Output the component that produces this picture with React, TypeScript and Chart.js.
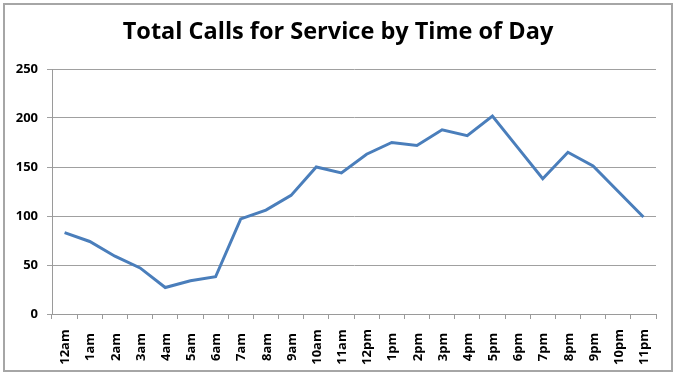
import React, { useEffect, useRef } from "react";
import { Chart, registerables } from "chart.js";

Chart.register(...registerables);

const hours = [
  "12am", "1am", "2am", "3am", "4am", "5am", "6am", "7am", "8am", "9am", "10am", "11am",
  "12pm", "1pm", "2pm", "3pm", "4pm", "5pm", "6pm", "7pm", "8pm", "9pm", "10pm", "11pm",
];
const calls = [83, 74, 59, 47, 27, 34, 38, 97, 106, 121, 150, 144, 163, 175, 172, 188, 182, 202, 170, 138, 165, 151, 125, 99];
const yTicks = [0, 50, 100, 150, 200, 250];
const titleText = "Total Calls for Service by Time of Day";

const FONT = "'Open Sans', 'Noto Sans', sans-serif";

const titleAndLabels = {
  id: "titleAndLabels",
  afterDraw(chart: any) {
    const ctx = chart.ctx;
    ctx.save();
    ctx.fillStyle = "#000";
    ctx.textAlign = "center";
    ctx.textBaseline = "middle";
    ctx.font = `bold 23.5px ${FONT}`;
    ctx.fillText(titleText, chart.width / 2, 32);

    const scale = chart.scales.x;
    const cy = chart.chartArea.bottom + 33;
    ctx.font = `bold 13px ${FONT}`;
    hours.forEach((h, i) => {
      const x = scale.getPixelForValue(i);
      ctx.save();
      ctx.translate(x + 1, cy);
      ctx.rotate(-Math.PI / 2);
      ctx.fillText(h, 0, 0);
      ctx.restore();
    });
    ctx.restore();
  },
};

export default function App() {
  const ref = useRef<HTMLCanvasElement>(null);
  useEffect(() => {
    document.body.style.margin = "0";
    const chart = new Chart(ref.current!, {
      type: "line",
      data: {
        labels: hours,
        datasets: [
          {
            data: calls,
            borderColor: "#4a7ebb",
            backgroundColor: "#4a7ebb",
            borderWidth: 3,
            pointRadius: 0,
            tension: 0,
          },
        ],
      },
      options: {
        animation: false,
        responsive: false,
        layout: { padding: { left: 0, right: 20, top: 69, bottom: 0 } },
        plugins: {
          legend: { display: false },
          tooltip: { enabled: false },
          title: { display: false },
        },
        scales: {
          x: {
            offset: true,
            grid: {
              offset: true,
              drawOnChartArea: false,
              color: "#9a9a9a",
              tickLength: 5,
            },
            border: { color: "#9a9a9a", width: 1 },
            ticks: { display: false },
            afterFit(scale: any) {
              scale.height = 60;
            },
          },
          y: {
            min: 0,
            max: 250,
            afterBuildTicks(scale: any) {
              scale.ticks = yTicks.map((v) => ({ value: v }));
            },
            grid: { color: "#a0a0a0", tickLength: 5 },
            border: { color: "#9a9a9a", width: 1 },
            ticks: {
              color: "#000",
              padding: 9,
              font: { family: FONT, size: 13, weight: "bold" },
            },
            afterFit(scale: any) {
              scale.width = 52;
            },
          },
        },
      },
      plugins: [titleAndLabels],
    });
    return () => chart.destroy();
  }, []);

  return (
    <div style={{ position: "relative", width: 676, height: 374, background: "#fff" }}>
      <canvas ref={ref} width={676} height={374} style={{ position: "absolute", left: 0, top: 0 }} />
      <div
        style={{
          position: "absolute",
          left: 3,
          top: 3,
          width: 666,
          height: 365,
          border: "2px solid #a6a6a6",
          pointerEvents: "none",
        }}
      />
    </div>
  );
}
